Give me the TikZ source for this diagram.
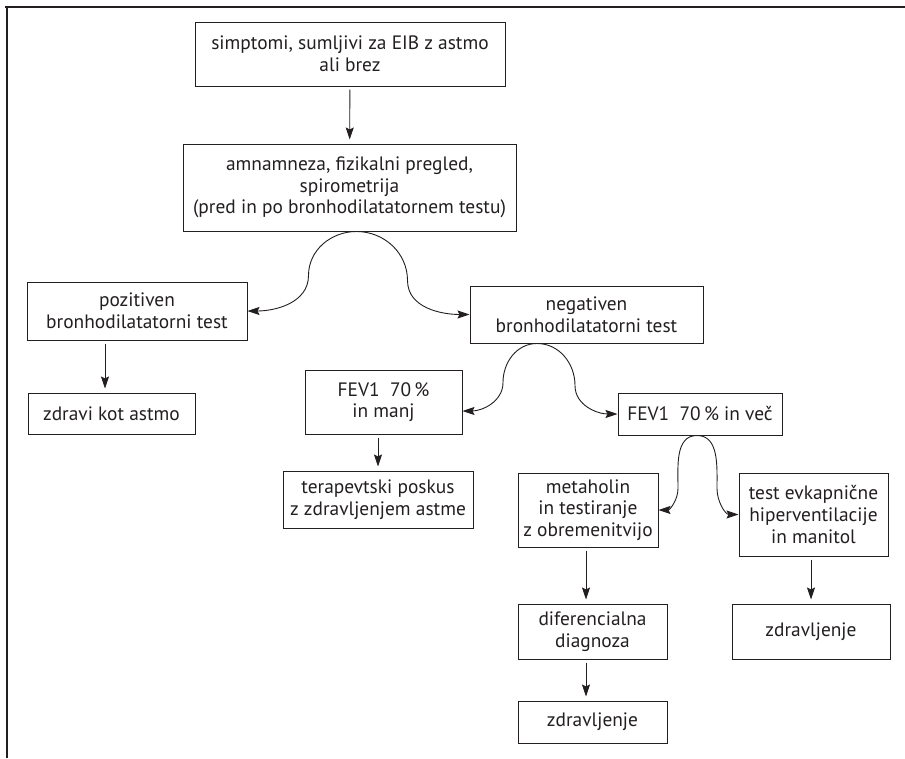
\documentclass[tikz,border=0pt]{standalone}
\usepackage{fontspec}
\setmainfont{PT Sans}
\usetikzlibrary{arrows.meta}
\definecolor{ink}{HTML}{231F20}
\tikzset{
  box/.style={draw=ink, text=ink, line width=1pt, align=center, inner sep=0pt,
    font=\fontsize{19.4}{21.7}\selectfont},
  arr/.style={draw=ink, line width=0.9pt, -{Stealth[length=12pt,width=8pt,inset=2pt]}},
  gap/.style={shorten <=3pt, shorten >=4pt},
}

\begin{document}
\begin{tikzpicture}[x=1pt,y=1pt]
    \useasboundingbox (0,0) rectangle (905,-758);
    \draw[ink, line width=1.5pt] (5,-7) -- (905,-7);
    \draw[ink, line width=1.5pt] (7,-7) -- (7,-758);

    \node[box, minimum width=310pt, minimum height=64pt] (simp) at (350,-54) {simptomi, sumljivi za EIB z astmo\\ali brez};
    \node[box, minimum width=333pt, minimum height=87pt] (amn) at (349.5,-187.5) {amnamneza, fizikalni pregled,\\spirometrija\\(pred in po bronhodilatatornem testu)};
    \node[box, minimum width=220pt, minimum height=58pt] (poz) at (137,-311) {pozitiven\\bronhodilatatorni test};
    \node[box, minimum width=233pt, minimum height=57pt] (neg) at (586.5,-314.5) {negativen\\bronhodilatatorni test};
    \node[box, minimum width=167pt, minimum height=41pt] (zdr) at (111.5,-413.5) {zdravi kot astmo};
    \node[box, minimum width=157pt, minimum height=64pt] (manj) at (383.5,-402) {FEV1~~70\,\%\\in manj};
    \node[box, minimum width=164pt, minimum height=42pt] (vec) at (700,-414) {FEV1~~70\,\% in več};
    \node[box, minimum width=190pt, minimum height=57pt] (tera) at (378,-499.5) {terapevtski poskus\\z zdravljenjem astme};
    \node[box, minimum width=140pt, minimum height=74pt] (meta) at (588,-510) {metaholin\\in testiranje\\z obremenitvijo};
    \node[box, minimum width=149pt, minimum height=83pt] (test) at (813.5,-514.5) {test evkapnične\\hiperventilacije\\in manitol};
    \node[box, minimum width=149pt, minimum height=55pt] (dif) at (592.5,-631.5) {diferencialna\\diagnoza};
    \node[box, minimum width=149pt, minimum height=42pt] (zdrA) at (592.5,-722) {zdravljenje};
    \node[box, minimum width=158pt, minimum height=55pt] (zdrB) at (811,-631.5) {zdravljenje};

    \draw[arr, gap] (simp) -- (amn);
    \draw[arr, gap] ([xshift=-32pt]poz.south) -- ([xshift=-6.5pt]zdr.north);
    \draw[arr, gap] ([xshift=-5.5pt]manj.south) -- (tera.north);
    \draw[arr, gap] ([xshift=-2pt]meta.south) -- ([xshift=-6.5pt]dif.north);
    \draw[arr, gap] ([xshift=-6.5pt]dif.south) -- ([xshift=-6.5pt]zdrA.north);
    \draw[arr, gap] ([xshift=-2.5pt]test.south) -- (zdrB.north);

    \draw[arr] ([xshift=7pt]amn.south) to[out=180,in=90] ++(-48,-44) to[out=-90,in=0] (poz.east);
    \draw[arr] ([xshift=7pt]amn.south) to[out=0,in=90] ++(51,-49) to[out=-90,in=180] (neg.west);
    \draw[arr] ([xshift=-49.5pt]neg.south) to[out=180,in=90] ++(-34,-39) to[out=-90,in=0] ([yshift=-9pt]manj.east);
    \draw[arr] ([xshift=-49.5pt]neg.south) to[out=0,in=90] ++(38,-42) to[out=-90,in=180] (vec.west);
    \draw[arr] ([xshift=-3pt]vec.south) to[out=180,in=90] ++(-19,-53) to[out=-90,in=0] (meta.east);
    \draw[arr] ([xshift=-3pt]vec.south) to[out=0,in=90] ++(20,-53) to[out=-90,in=180] (test.west);
\end{tikzpicture}
\end{document}
